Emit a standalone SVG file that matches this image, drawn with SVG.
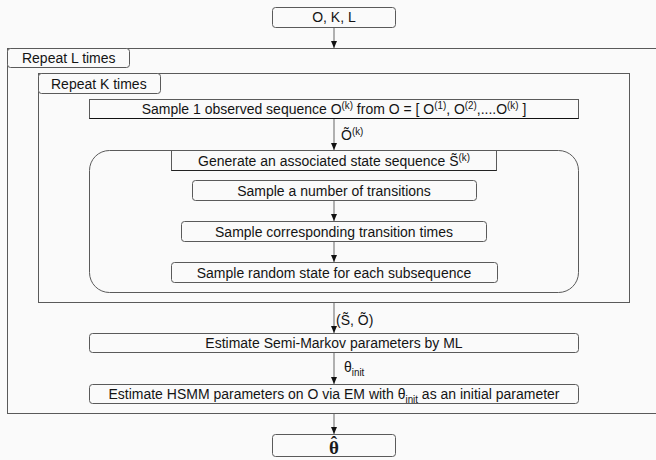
<svg xmlns="http://www.w3.org/2000/svg" width="656" height="460" viewBox="0 0 656 460">
<style>
.box{fill:#fafafa;stroke:#5a5a5a;stroke-width:1}
.frame{fill:none;stroke:#5a5a5a;stroke-width:1}
.t{font-family:"Liberation Sans",Arial,sans-serif;font-size:15px;fill:#141414}
.c{text-anchor:middle}
.sup{font-size:10.5px}
.serif{font-family:"Liberation Serif","Times New Roman",serif;font-size:19px;font-weight:bold;fill:#1a1a1a;text-anchor:middle}
.conn line{stroke:#666;stroke-width:1;marker-end:url(#ah)}
</style>
<defs>
<marker id="ah" markerUnits="userSpaceOnUse" markerWidth="8" markerHeight="8" refX="7" refY="3" orient="auto">
<path d="M0,0 L7,3 L0,6 z" fill="#111"/>
</marker>
</defs>
<rect x="0" y="0" width="656" height="460" fill="#fafafa"/>

<g id="loopL">
<rect class="frame" x="7.5" y="48.5" width="662" height="365"/>
<rect class="box" x="7.5" y="48.5" width="122" height="19" rx="3"/>
<text class="t" x="22" y="63.5" transform="matrix(0.933 0 0 1 1.47 0)">Repeat L times</text>
</g>

<g id="loopK">
<rect class="frame" x="38.5" y="73.5" width="591" height="229"/>
<rect class="box" x="38.5" y="73.5" width="122" height="20" rx="3"/>
<text class="t" x="51" y="89" transform="matrix(0.933 0 0 1 3.42 0)">Repeat K times</text>
</g>

<g id="input">
<rect class="box" x="272.5" y="7.5" width="123" height="20" rx="3"/>
<text class="t c" x="334" y="22.5" transform="matrix(0.933 0 0 1 22.38 0)">O, K, L</text>
</g>

<g id="sample1">
<rect class="box" x="89.5" y="99.5" width="489" height="19"/>
<line x1="89.5" y1="118.5" x2="578.5" y2="118.5" stroke="#111"/>
<text class="t c" x="334" y="114.5" transform="matrix(0.933 0 0 1 22.38 0)">Sample 1 observed sequence O<tspan class="sup" dy="-5">(k)</tspan><tspan dy="5"> from O = [ O</tspan><tspan class="sup" dy="-5">(1)</tspan><tspan dy="5">, O</tspan><tspan class="sup" dy="-5">(2)</tspan><tspan dy="5">,....O</tspan><tspan class="sup" dy="-5">(k)</tspan><tspan dy="5"> ]</tspan></text>
</g>

<g id="generateGroup">
<rect class="frame" x="89.5" y="150.5" width="489" height="142" rx="20"/>
</g>

<g id="generate">
<rect class="box" x="171.5" y="150.5" width="325" height="20"/>
<line x1="171.5" y1="170.5" x2="496.5" y2="170.5" stroke="#222"/>
<text class="t c" x="334" y="166" transform="matrix(0.933 0 0 1 22.38 0)">Generate an associated state sequence S̃<tspan class="sup" dy="-5">(k)</tspan></text>
</g>

<g id="sampleNumber">
<rect class="box" x="192.5" y="180.5" width="284" height="20" rx="3"/>
<text class="t c" x="334" y="196" transform="matrix(0.933 0 0 1 22.38 0)">Sample a number of transitions</text>
</g>

<g id="sampleTimes">
<rect class="box" x="181.5" y="221.5" width="305" height="20" rx="3"/>
<text class="t c" x="334" y="237" transform="matrix(0.933 0 0 1 22.38 0)">Sample corresponding transition times</text>
</g>

<g id="sampleState">
<rect class="box" x="171.5" y="262.5" width="326" height="20" rx="3"/>
<text class="t c" x="334" y="278" transform="matrix(0.933 0 0 1 22.38 0)">Sample random state for each subsequence</text>
</g>

<g id="estimateSM">
<rect class="box" x="89.5" y="333.5" width="489" height="19" rx="3"/>
<text class="t c" x="334" y="348.5" transform="matrix(0.933 0 0 1 22.38 0)">Estimate Semi-Markov parameters by ML</text>
</g>

<g id="estimateHSMM">
<rect class="box" x="89.5" y="384.5" width="489" height="19" rx="3"/>
<text class="t c" x="334" y="399.5" transform="matrix(0.933 0 0 1 22.38 0)">Estimate HSMM parameters on O via EM with θ<tspan class="sup" dy="4">init</tspan><tspan dy="-4"> as an initial parameter</tspan></text>
</g>

<g id="output">
<rect class="box" x="272.5" y="434.5" width="123" height="22" rx="3"/>
<text class="serif" x="334" y="454">θ<tspan x="334" y="449">ˆ</tspan></text>
</g>

<g id="connectors" class="conn">
<line x1="334" y1="28" x2="334" y2="48"/>
<line x1="334" y1="119" x2="334" y2="150"/>
<line x1="334" y1="201" x2="334" y2="221"/>
<line x1="334" y1="242" x2="334" y2="262"/>
<line x1="334" y1="303" x2="334" y2="333"/>
<line x1="334" y1="353" x2="334" y2="384"/>
<line x1="334" y1="414" x2="334" y2="434"/>
<text class="t" x="341" y="140" transform="matrix(0.933 0 0 1 22.85 0)">Õ<tspan class="sup" dy="-5">(k)</tspan></text>
<text class="t" x="336" y="325" transform="matrix(0.933 0 0 1 22.51 0)">(S̃, Õ)</text>
<text class="t" x="344" y="372" transform="matrix(0.933 0 0 1 23.05 0)">θ<tspan class="sup" dy="4">init</tspan></text>
</g>
</svg>
